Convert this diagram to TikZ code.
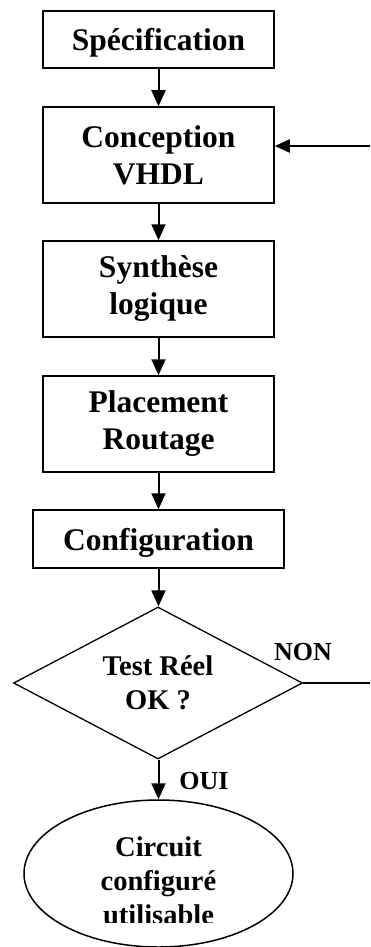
\documentclass[tikz,border=0pt]{standalone}
\usepackage{fontspec}
\setmainfont{Liberation Serif}
\usetikzlibrary{arrows.meta,shapes.geometric}
\begin{document}
\begin{tikzpicture}[x=1pt,y=-1pt,
  stage/.style={draw,line width=1.5pt,rectangle,inner sep=0pt,align=center,
    font=\fontsize{31.5}{37}\selectfont\bfseries,minimum width=231pt},
  oneline/.style={text height=22pt,text depth=0pt},
  flow/.style={line width=2pt,-{Triangle[width=14pt,length=16pt]}},
  small/.style={align=center,inner sep=0pt,font=\fontsize{28.5}{34}\selectfont\bfseries},
  answer/.style={inner sep=0pt,font=\fontsize{26}{30}\selectfont\bfseries}]
\useasboundingbox (0,0) rectangle (370,947);

% design steps
\node[stage,oneline,minimum height=57pt] (spec) at (158.5,39.5) {Spécification};
\node[stage,minimum height=96pt] (conc) at (158.5,155) {Conception\\VHDL};
\node[stage,minimum height=96pt] (synth) at (158.5,289) {Synthèse\\logique};
\node[stage,minimum height=96pt] (place) at (158.5,424) {Placement\\Routage};
\node[stage,oneline,minimum width=251pt,minimum height=58pt] (config) at (158.5,539) {Configuration};

% decision
\node[small,diamond,draw,line width=1.3pt,aspect=1.9,minimum width=289pt,
  minimum height=152pt] (test) at (158,683) {Test Réel\\OK ?};

% final state
\node[ellipse,draw,line width=1.5pt,inner sep=0pt,minimum width=269pt,
  minimum height=147pt] (done) at (158.5,873.5) {};
\begin{scope}
  \clip (0,0) rectangle (370,922.5);
  \node[small] (donetxt) at (158.5,880.5) {Circuit\\configuré\\utilisable};
\end{scope}

% connectors
\draw[flow] (spec.south) -- (conc.north);
\draw[flow] (conc.south) -- (synth.north);
\draw[flow] (synth.south) -- (place.north);
\draw[flow] (place.south) -- (config.north);
\draw[flow] (config.south) -- (config.south |- test.north);
\draw[flow] (done.north |- test.south) -- (done.north);

\coordinate (loopin) at (370,146);
\draw[flow,-{Triangle[width=13pt,length=15pt]}] (loopin) -- (conc.east |- loopin);
\coordinate (loopout) at (370,683);
\draw[line width=1.3pt] (test.east) -- (loopout);

\node[answer] (non) at (303,652) {NON};
\node[answer] (oui) at (204,781) {OUI};
\end{tikzpicture}
\end{document}
